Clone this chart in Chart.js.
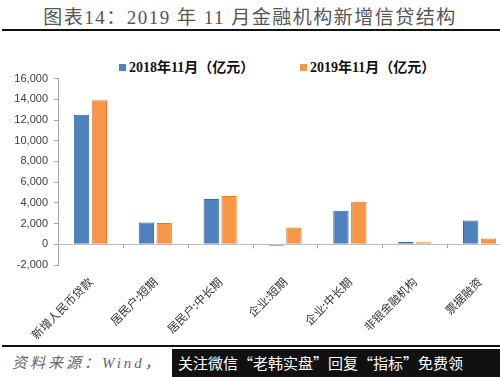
<!DOCTYPE html>
<html lang="zh">
<head>
  <meta charset="UTF-8">
  <title>2019年11月金融机构新增信贷结构</title>
  <script src="https://cdn.jsdelivr.net/npm/chart.js"></script>
  <style>
    body { margin: 0; width: 500px; height: 377px; overflow: hidden; background: #fff; position: relative; }
    .titulo { position: absolute; left: 0; top: 2px; width: 500px; text-align: center; font: 19px "Liberation Serif", "Noto Sans CJK SC", serif; color: #555; letter-spacing: 1.5px; }
    .linha-topo { position: absolute; left: 2px; top: 29px; width: 498px; height: 2px; background: #111; }
    .legenda { position: absolute; top: 56px; font: bold 14px "Liberation Serif", "Noto Sans CJK SC", serif; color: #111; white-space: nowrap; }
    .legenda i { display: inline-block; width: 7px; height: 7px; margin-right: 3px; vertical-align: 1px; }
    .grafico { position: absolute; left: 0; top: 66px; width: 512px; height: 276px; }
    .linha-base { position: absolute; left: 2px; top: 345px; width: 498px; height: 2px; background: #111; }
    .fonte { position: absolute; left: 12px; top: 351px; font: italic 15px "Liberation Serif", "Noto Sans CJK SC", serif; color: #666; letter-spacing: 3px; }
    .marca { position: absolute; left: 172px; top: 349px; width: 328px; height: 28px; background: #111; color: #fff; font: 15px "Noto Sans CJK SC", sans-serif; line-height: 27px; padding-left: 6px; white-space: nowrap; }
  </style>
</head>
<body>
  <div class="titulo">图表14：2019 年 11 月金融机构新增信贷结构</div>
  <div class="linha-topo"></div>
  <div class="legenda" style="left:119px"><i style="background:#4f81bd"></i>2018年11月（亿元）</div>
  <div class="legenda" style="left:300px"><i style="background:#f79646"></i>2019年11月（亿元）</div>
  <div class="grafico"><canvas id="graficoCredito"></canvas></div>
  <div class="linha-base"></div>
  <div class="fonte">资料来源：Wind，</div>
  <div class="marca">关注微信“老韩实盘”回复“指标”免费领</div>

  <script>
    const categorias = ['新增人民币贷款', '居民户:短期', '居民户:中长期', '企业:短期', '企业:中长期', '非银金融机构', '票据融资'];
    const nov2018 = [12500, 2100, 4380, -130, 3250, 220, 2290];
    const nov2019 = [13900, 2050, 4670, 1620, 4100, 200, 570];
    const ticksY = [-2000, 0, 2000, 4000, 6000, 8000, 10000, 12000, 14000, 16000];

    // marquinhas do eixo x sobre a linha do zero
    const marcasEixo = {
      id: 'marcasEixo',
      afterDatasetsDraw(chart) {
        const x = chart.scales.x, y = chart.scales.y, c = chart.ctx;
        const y0 = y.getPixelForValue(0);
        const passo = (x.right - x.left) / categorias.length;
        c.save();
        c.strokeStyle = '#a6a6a6';
        c.lineWidth = 1;
        for (let i = 0; i <= categorias.length; i++) {
          const px = Math.round(x.left + i * passo) + 0.5;
          c.beginPath();
          c.moveTo(px, y0);
          c.lineTo(px, y0 + 4);
          c.stroke();
        }
        c.restore();
      }
    };

    new Chart(document.getElementById('graficoCredito'), {
      type: 'bar',
      data: {
        labels: categorias,
        datasets: [{
          label: '2018年11月（亿元）',
          data: nov2018,
          backgroundColor: '#4f81bd',
          borderColor: '#3a6aa6',
          borderWidth: 1,
          categoryPercentage: 0.55,
          barPercentage: 0.86
        }, {
          label: '2019年11月（亿元）',
          data: nov2019,
          backgroundColor: '#f79646',
          borderColor: '#e07a2a',
          borderWidth: 1,
          categoryPercentage: 0.55,
          barPercentage: 0.86
        }]
      },
      options: {
        responsive: true,
        maintainAspectRatio: false,
        animation: false,
        layout: { padding: { top: 3, right: 0, left: 0, bottom: 0 } },
        plugins: {
          legend: { display: false },
          tooltip: { enabled: false }
        },
        scales: {
          x: {
            afterFit(scale) { scale.height = 77; },
            grid: { display: false },
            border: { display: false },
            ticks: {
              autoSkip: false,
              maxRotation: 45,
              minRotation: 45,
              padding: 2,
              color: '#333',
              font: { family: '"Noto Sans CJK SC", sans-serif', size: 11.5 }
            }
          },
          y: {
            min: -2000,
            max: 16000,
            afterBuildTicks(scale) { scale.ticks = ticksY.map(v => ({ value: v })); },
            afterFit(scale) { scale.width = 58; },
            grid: {
              color: ctx => ctx.tick && ctx.tick.value === 0 ? '#bfbfbf' : 'transparent',
              tickColor: '#a6a6a6',
              tickLength: 4
            },
            border: { display: true, color: '#a6a6a6' },
            ticks: {
              color: '#404040',
              padding: 6,
              font: { family: '"Liberation Sans", sans-serif', size: 11 },
              callback: v => v.toLocaleString('en-US')
            }
          }
        }
      },
      plugins: [marcasEixo]
    });
  </script>
</body>
</html>
